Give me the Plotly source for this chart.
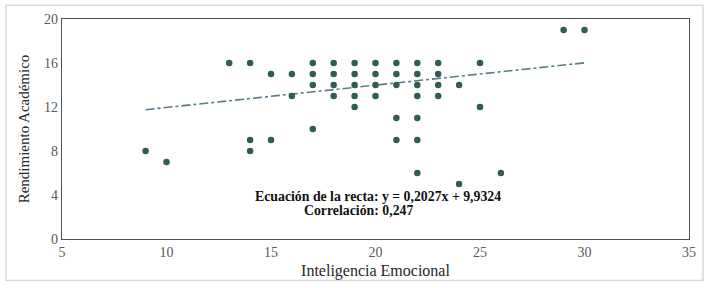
import plotly.graph_objects as go

# Data
inteligencia = [9, 10, 13, 14, 14, 14, 15, 15, 16, 16,
                17, 17, 17, 17, 18, 18, 18, 18,
                19, 19, 19, 19, 19, 20, 20, 20, 20,
                21, 21, 21, 21, 21,
                22, 22, 22, 22, 22, 22, 22,
                23, 23, 23, 23, 24, 24, 25, 25, 26, 29, 30]
rendimiento = [8, 7, 16, 16, 9, 8, 15, 9, 15, 13,
               16, 15, 14, 10, 16, 15, 14, 13,
               16, 15, 14, 13, 12, 16, 15, 14, 13,
               16, 15, 14, 11, 9,
               16, 15, 14, 13, 11, 9, 6,
               16, 15, 14, 13, 14, 5, 16, 12, 6, 19, 19]

slope = 0.2027
intercept = 9.9324
trend_x = [9, 30]
x_ticks = [5, 10, 15, 20, 25, 30, 35]
y_ticks = [0, 4, 8, 12, 16, 20]

trend_y = [slope * v + intercept for v in trend_x]

fig = go.Figure()
fig.add_trace(go.Scatter(
    x=trend_x, y=trend_y, mode="lines",
    line=dict(color="#5b7b8c", width=1.6, dash="dashdot"),
    hoverinfo="skip", showlegend=False))
fig.add_trace(go.Scatter(
    x=inteligencia, y=rendimiento, mode="markers",
    marker=dict(color="#2f5d4f", size=6.5),
    showlegend=False))

serif = "Liberation Serif, Times New Roman, serif"

fig.add_annotation(x=20.14, y=3.87, xref="x", yref="y",
                   text="<b>Ecuación de la recta: y = 0,2027x + 9,9324</b>",
                   showarrow=False, xanchor="center", yanchor="middle",
                   font=dict(family=serif, size=13.8, color="#111111"))
fig.add_annotation(x=19.18, y=2.6, xref="x", yref="y",
                   text="<b>Correlación: 0,247</b>",
                   showarrow=False, xanchor="center", yanchor="middle",
                   font=dict(family=serif, size=13.8, color="#111111"))

# outer light frame
fig.add_shape(type="rect", xref="paper", yref="paper",
              x0=-0.0893, x1=1.0223, y0=-0.189, y1=1.063,
              line=dict(color="#d9d9d9", width=1.5), layer="below")

fig.update_layout(
    width=713, height=288,
    margin=dict(l=62, r=24, t=18, b=48),
    paper_bgcolor="white", plot_bgcolor="white",
    font=dict(family=serif),
    xaxis=dict(range=[5, 35], tickvals=x_ticks, showgrid=False, zeroline=False,
               showline=True, mirror=True, linecolor="#505050", linewidth=1.3,
               ticks="", tickfont=dict(family=serif, size=14, color="#595959"),
               title=dict(text="Inteligencia Emocional", standoff=5,
                          font=dict(family=serif, size=16, color="#262626"))),
    yaxis=dict(range=[0, 20], tickvals=y_ticks, showgrid=False, zeroline=False,
               showline=True, mirror=True, linecolor="#505050", linewidth=1.3,
               ticks="", tickfont=dict(family=serif, size=14, color="#595959"),
               title=dict(text="Rendimiento Académico", standoff=10,
                          font=dict(family=serif, size=15, color="#262626"))),
)

fig.write_html("out.html", config={"displayModeBar": False},
               post_script="document.body.style.margin='0';")
